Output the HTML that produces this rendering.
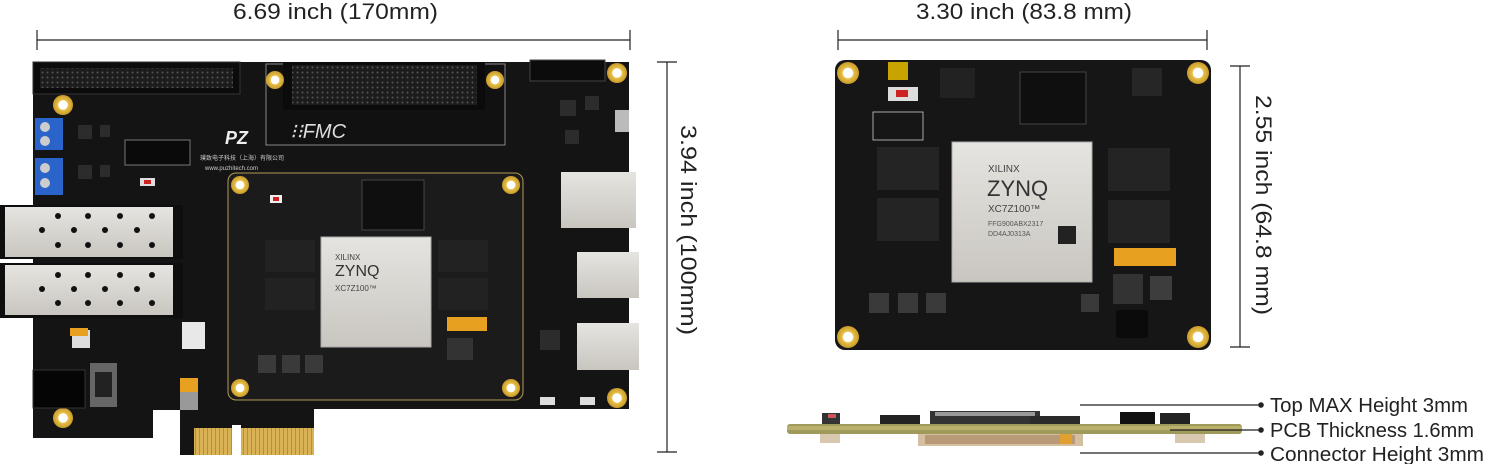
<!DOCTYPE html>
<html><head><meta charset="utf-8"><style>
html,body{margin:0;padding:0;background:#fff;}
svg{display:block;}
text{font-family:"Liberation Sans",sans-serif;}
</style></head><body>
<svg width="1485" height="464" viewBox="0 0 1485 464" xmlns="http://www.w3.org/2000/svg">
<defs>
<radialGradient id="gh" cx="50%" cy="50%" r="50%"><stop offset="45%" stop-color="#fff"/><stop offset="50%" stop-color="#e8c24a"/><stop offset="100%" stop-color="#c99a2a"/></radialGradient>
<linearGradient id="sil" x1="0" y1="0" x2="0" y2="1"><stop offset="0" stop-color="#e6e4e0"/><stop offset="1" stop-color="#c9c6c0"/></linearGradient>
<pattern id="fing" width="4" height="30" patternUnits="userSpaceOnUse"><rect width="4" height="30" fill="#b98f36"/><rect width="3" height="30" fill="#d9b255"/></pattern>
<pattern id="pins" width="5" height="5" patternUnits="userSpaceOnUse"><rect width="5" height="5" fill="#1c1c1c"/><circle cx="2.5" cy="2.5" r="1" fill="#555"/></pattern>
</defs>

<!-- top dimension left -->
<text x="233" y="19" font-size="22" textLength="205" lengthAdjust="spacingAndGlyphs" fill="#222">6.69 inch (170mm)</text>
<line x1="37" y1="40" x2="630" y2="40" stroke="#222" stroke-width="1.2"/>
<line x1="37" y1="30" x2="37" y2="50" stroke="#222" stroke-width="1.2"/>
<line x1="630" y1="30" x2="630" y2="50" stroke="#222" stroke-width="1.2"/>

<!-- left board -->
<path d="M33 62 H629 V409 H314 V455 H180 V437 L178 430 H153 V438 H33 Z" fill="#141414"/>
<rect x="194" y="428" width="38" height="27" fill="url(#fing)"/>
<rect x="241" y="428" width="73" height="27" fill="url(#fing)"/>
<rect x="232" y="425" width="9" height="32" fill="#fff"/>
<rect x="153" y="410" width="27" height="28" fill="#fff"/>
<rect x="33" y="62" width="207" height="32" fill="#0c0c0c" stroke="#333"/>
<rect x="40" y="68" width="193" height="20" fill="url(#pins)"/>
<rect x="266" y="64" width="239" height="81" fill="#111" stroke="#888" stroke-width="1"/>
<rect x="283" y="62" width="202" height="48" fill="#0b0b0b"/>
<rect x="292" y="65" width="185" height="40" fill="url(#pins)"/>
<text x="290" y="138" font-size="20" font-style="italic" fill="#ddd">⁝⁝FMC</text>
<rect x="530" y="60" width="75" height="21" fill="#0c0c0c" stroke="#444"/>
<circle cx="275" cy="80" r="9" fill="url(#gh)"/>
<circle cx="495" cy="80" r="9" fill="url(#gh)"/>
<circle cx="617" cy="73" r="10" fill="url(#gh)"/>
<circle cx="63" cy="105" r="10" fill="url(#gh)"/>
<circle cx="63" cy="418" r="10" fill="url(#gh)"/>
<circle cx="617" cy="398" r="10" fill="url(#gh)"/>
<rect x="35" y="118" width="28" height="32" fill="#2a63c9"/>
<rect x="35" y="158" width="28" height="37" fill="#2a63c9"/>
<circle cx="45" cy="127" r="5" fill="#ccc"/><circle cx="45" cy="141" r="5" fill="#ccc"/>
<circle cx="45" cy="168" r="5" fill="#ccc"/><circle cx="45" cy="183" r="5" fill="#ccc"/>
<g fill="#2c2c2c"><rect x="78" y="125" width="14" height="14"/><rect x="100" y="125" width="10" height="12"/><rect x="78" y="165" width="14" height="14"/><rect x="100" y="165" width="10" height="12"/><rect x="560" y="100" width="16" height="16"/><rect x="585" y="96" width="14" height="14"/><rect x="565" y="130" width="14" height="14"/><rect x="540" y="330" width="20" height="20"/><rect x="250" y="335" width="14" height="14"/></g>
<rect x="125" y="140" width="65" height="25" fill="#0a0a0a" stroke="#777"/>
<text x="225" y="144" font-size="18" font-weight="bold" font-style="italic" fill="#eee">PZ</text>
<text x="200" y="160" font-size="6" fill="#ccc">璞致电子科技（上海）有限公司</text>
<text x="205" y="170" font-size="6" fill="#ccc">www.puzhitech.com</text>
<rect x="0" y="205" width="183" height="54" fill="#0e0e0e"/>
<rect x="5" y="207" width="168" height="50" fill="url(#sil)"/>
<rect x="0" y="263" width="183" height="55" fill="#0e0e0e"/>
<rect x="5" y="265" width="168" height="50" fill="url(#sil)"/>
<g fill="#111">
<circle cx="58" cy="216" r="3"/><circle cx="88" cy="216" r="3"/><circle cx="120" cy="216" r="3"/><circle cx="152" cy="216" r="3"/>
<circle cx="42" cy="230" r="3"/><circle cx="74" cy="230" r="3"/><circle cx="105" cy="230" r="3"/><circle cx="137" cy="230" r="3"/>
<circle cx="58" cy="245" r="3"/><circle cx="88" cy="245" r="3"/><circle cx="120" cy="245" r="3"/><circle cx="152" cy="245" r="3"/>
<circle cx="58" cy="275" r="3"/><circle cx="88" cy="275" r="3"/><circle cx="120" cy="275" r="3"/><circle cx="152" cy="275" r="3"/>
<circle cx="42" cy="289" r="3"/><circle cx="74" cy="289" r="3"/><circle cx="105" cy="289" r="3"/><circle cx="137" cy="289" r="3"/>
<circle cx="58" cy="303" r="3"/><circle cx="88" cy="303" r="3"/><circle cx="120" cy="303" r="3"/><circle cx="152" cy="303" r="3"/>
</g>
<rect x="182" y="322" width="23" height="27" fill="#e8e8e8"/>
<rect x="72" y="330" width="18" height="18" fill="#ddd"/>
<rect x="70" y="328" width="18" height="8" fill="#e8a020"/>
<rect x="33" y="370" width="52" height="38" fill="#050505" stroke="#333"/>
<rect x="90" y="363" width="27" height="44" fill="#666"/>
<rect x="95" y="372" width="17" height="25" fill="#222"/>
<rect x="180" y="378" width="18" height="14" fill="#e8a020"/>
<rect x="180" y="392" width="18" height="18" fill="#999"/>
<rect x="228" y="173" width="295" height="227" rx="8" fill="#1b1b1b" stroke="#b49a55" stroke-width="1"/>
<circle cx="240" cy="185" r="9" fill="url(#gh)"/><circle cx="511" cy="185" r="9" fill="url(#gh)"/>
<circle cx="240" cy="388" r="9" fill="url(#gh)"/><circle cx="511" cy="388" r="9" fill="url(#gh)"/>
<rect x="321" y="237" width="110" height="110" fill="url(#sil)" stroke="#aaa"/>
<text x="335" y="260" font-size="8" fill="#444">XILINX</text>
<text x="335" y="276" font-size="16" fill="#333">ZYNQ</text>
<text x="335" y="291" font-size="8" fill="#444">XC7Z100™</text>
<rect x="265" y="240" width="50" height="32" fill="#222"/><rect x="265" y="278" width="50" height="32" fill="#222"/>
<rect x="438" y="240" width="50" height="32" fill="#222"/><rect x="438" y="278" width="50" height="32" fill="#222"/>
<rect x="362" y="180" width="62" height="50" fill="#0f0f0f" stroke="#444"/>
<rect x="447" y="317" width="40" height="14" fill="#e8a020"/>
<rect x="447" y="338" width="26" height="22" fill="#333"/>
<rect x="258" y="355" width="18" height="18" fill="#3a3a3a"/><rect x="282" y="355" width="18" height="18" fill="#3a3a3a"/><rect x="305" y="355" width="18" height="18" fill="#3a3a3a"/>
<rect x="270" y="195" width="12" height="8" fill="#eee"/><rect x="273" y="197" width="6" height="4" fill="#c22"/>
<rect x="561" y="172" width="75" height="56" fill="url(#sil)"/>
<rect x="577" y="252" width="62" height="46" fill="url(#sil)"/>
<rect x="577" y="323" width="62" height="47" fill="url(#sil)"/>
<rect x="615" y="110" width="14" height="22" fill="#bbb"/>
<rect x="540" y="397" width="15" height="8" fill="#ddd"/><rect x="580" y="397" width="15" height="8" fill="#ddd"/>
<rect x="140" y="178" width="15" height="8" fill="#ddd"/><rect x="144" y="180" width="7" height="4" fill="#c22"/>

<line x1="667" y1="62" x2="667" y2="452" stroke="#222" stroke-width="1.2"/>
<line x1="657" y1="62" x2="677" y2="62" stroke="#222" stroke-width="1.2"/>
<line x1="657" y1="452" x2="677" y2="452" stroke="#222" stroke-width="1.2"/>
<text transform="translate(681,125) rotate(90)" font-size="22" textLength="210" lengthAdjust="spacingAndGlyphs" fill="#222">3.94 inch (100mm)</text>

<text x="916" y="19" font-size="22" textLength="216" lengthAdjust="spacingAndGlyphs" fill="#222">3.30 inch (83.8 mm)</text>
<line x1="838" y1="40" x2="1207" y2="40" stroke="#222" stroke-width="1.2"/>
<line x1="838" y1="30" x2="838" y2="50" stroke="#222" stroke-width="1.2"/>
<line x1="1207" y1="30" x2="1207" y2="50" stroke="#222" stroke-width="1.2"/>

<rect x="835" y="60" width="376" height="290" rx="10" fill="#161616"/>
<circle cx="848" cy="73" r="11" fill="url(#gh)"/><circle cx="1198" cy="73" r="11" fill="url(#gh)"/>
<circle cx="848" cy="337" r="11" fill="url(#gh)"/><circle cx="1198" cy="337" r="11" fill="url(#gh)"/>
<rect x="952" y="142" width="140" height="140" fill="url(#sil)" stroke="#aaa"/>
<text x="988" y="172" font-size="10" fill="#444">XILINX</text>
<text x="987" y="196" font-size="22" fill="#333">ZYNQ</text>
<text x="988" y="212" font-size="10" fill="#444">XC7Z100™</text>
<text x="988" y="226" font-size="7" fill="#555">FFG900ABX2317</text>
<text x="988" y="236" font-size="7" fill="#555">DD4AJ0313A</text>
<rect x="1058" y="226" width="18" height="18" fill="#222"/>
<rect x="877" y="147" width="62" height="43" fill="#242424"/><rect x="877" y="198" width="62" height="43" fill="#242424"/>
<rect x="1108" y="148" width="62" height="43" fill="#242424"/><rect x="1108" y="200" width="62" height="43" fill="#242424"/>
<rect x="1020" y="72" width="66" height="52" fill="#0f0f0f" stroke="#444"/>
<rect x="940" y="68" width="35" height="30" fill="#222"/>
<rect x="1132" y="68" width="30" height="28" fill="#262626"/>
<rect x="888" y="62" width="20" height="18" fill="#c9a300"/>
<rect x="888" y="87" width="30" height="14" fill="#ddd"/><rect x="896" y="90" width="12" height="7" fill="#c22"/>
<rect x="873" y="112" width="50" height="28" fill="none" stroke="#ccc" stroke-width="0.8"/>
<rect x="1114" y="248" width="62" height="18" fill="#e8a020"/>
<rect x="1113" y="274" width="30" height="30" fill="#333"/><rect x="1150" y="276" width="22" height="24" fill="#3d3d3d"/>
<rect x="1116" y="310" width="32" height="28" fill="#0b0b0b"/>
<rect x="869" y="293" width="20" height="20" fill="#3a3a3a"/><rect x="898" y="293" width="20" height="20" fill="#3a3a3a"/><rect x="926" y="293" width="20" height="20" fill="#3a3a3a"/><rect x="1081" y="294" width="18" height="18" fill="#3a3a3a"/>
<line x1="1240" y1="66" x2="1240" y2="347" stroke="#222" stroke-width="1.2"/>
<line x1="1230" y1="66" x2="1250" y2="66" stroke="#222" stroke-width="1.2"/>
<line x1="1230" y1="347" x2="1250" y2="347" stroke="#222" stroke-width="1.2"/>
<text transform="translate(1256,95) rotate(90)" font-size="22" textLength="220" lengthAdjust="spacingAndGlyphs" fill="#222">2.55 inch (64.8 mm)</text>

<rect x="822" y="413" width="18" height="11" fill="#333"/><rect x="828" y="414" width="8" height="4" fill="#c55"/>
<rect x="880" y="415" width="40" height="9" fill="#222"/>
<rect x="930" y="411" width="110" height="13" fill="#333"/><rect x="935" y="412" width="100" height="4" fill="#999"/>
<rect x="1030" y="416" width="50" height="8" fill="#2a2a2a"/>
<rect x="1120" y="412" width="35" height="12" fill="#111"/><rect x="1160" y="413" width="30" height="11" fill="#222"/>
<rect x="787" y="424" width="455" height="10" rx="3" fill="#a09a5a"/>
<rect x="787" y="426" width="455" height="4" fill="#b8b06c"/>
<rect x="918" y="434" width="165" height="12" fill="#d4bfa0"/>
<rect x="925" y="435" width="150" height="9" fill="#b89a78"/>
<rect x="820" y="434" width="20" height="9" fill="#d8c8b0"/><rect x="1060" y="434" width="12" height="10" fill="#e0a030"/>
<rect x="1175" y="434" width="30" height="9" fill="#d8c8b0"/>
<line x1="1080" y1="405" x2="1260" y2="405" stroke="#222" stroke-width="1.2"/>
<line x1="1170" y1="430" x2="1260" y2="430" stroke="#222" stroke-width="1.2"/>
<line x1="1080" y1="453" x2="1260" y2="453" stroke="#222" stroke-width="1.2"/>
<circle cx="1261" cy="405" r="2.8" fill="#222"/><circle cx="1261" cy="430" r="2.8" fill="#222"/><circle cx="1261" cy="453" r="2.8" fill="#222"/>
<text x="1270" y="412" font-size="20" textLength="198" lengthAdjust="spacingAndGlyphs" fill="#222">Top MAX Height 3mm</text>
<text x="1270" y="437" font-size="20" textLength="204" lengthAdjust="spacingAndGlyphs" fill="#222">PCB Thickness 1.6mm</text>
<text x="1270" y="461" font-size="20" textLength="214" lengthAdjust="spacingAndGlyphs" fill="#222">Connector Height 3mm</text>
</svg>
</body></html>
